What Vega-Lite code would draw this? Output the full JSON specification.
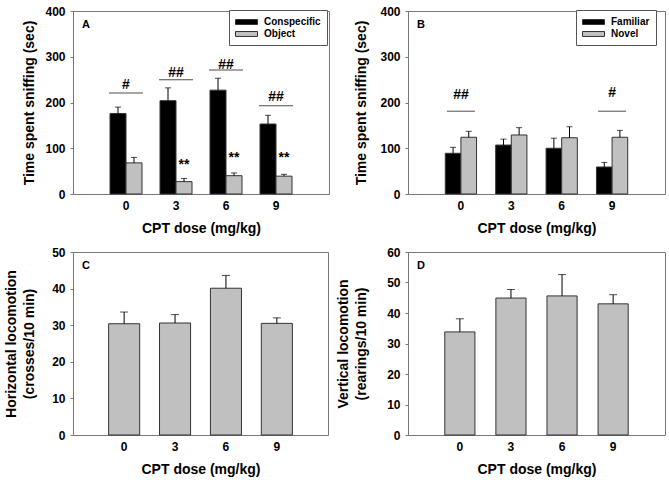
{
  "$schema": "https://vega.github.io/schema/vega-lite/v6.json",
  "padding": {"left": 4, "top": 4, "right": 0, "bottom": 0},
  "background": "white",
  "columns": 2,
  "align": "each",
  "spacing": {"row": 9, "column": 6},
  "resolve": {"scale": {"color": "independent", "x": "independent", "y": "independent", "xOffset": "independent"}, "legend": {"color": "independent"}, "axis": {"x": "independent", "y": "independent"}},
  "config": {
    "font": "Liberation Sans",
    "view": {"stroke": "#777", "strokeWidth": 1},
    "axis": {"domain": false, "grid": false, "labelFont": "Liberation Sans", "labelFontSize": 12, "labelFontWeight": "bold", "labelColor": "#000", "titleFont": "Liberation Sans", "titleFontSize": 14, "titleFontWeight": "bold", "titleColor": "#000", "tickColor": "#777", "tickSize": 3, "titleLineHeight": 18, "labelOverlap": false},
    "axisX": {"ticks": false, "labelAngle": 0, "labelPadding": 6, "titlePadding": 10},
    "axisY": {"labelPadding": 5},
    "title": {"anchor": "start", "frame": "group", "offset": -25, "dx": 9, "fontSize": 11, "fontWeight": "bold", "font": "Liberation Sans", "color": "#000"},
    "legend": {"orient": "none", "title": null, "padding": 6, "strokeColor": "#555", "strokeWidth": 1, "fillColor": "white", "labelFont": "Liberation Sans", "labelFontSize": 10, "labelFontWeight": "bold", "labelColor": "#000", "symbolType": "M-1,-0.45H3V0.45H-1Z", "symbolSize": 121, "symbolStrokeColor": "#333", "symbolStrokeWidth": 1, "labelOffset": 17, "rowPadding": 1}
  },
  "concat": [
    {
      "width": 256, "height": 183,
      "title": {"text": "A"},
      "layer": [
        {
          "data": {"values": [
            {"dose": "0", "group": "Conspecific", "mean": 176, "upper": 190},
            {"dose": "0", "group": "Object", "mean": 68, "upper": 80},
            {"dose": "3", "group": "Conspecific", "mean": 204, "upper": 232},
            {"dose": "3", "group": "Object", "mean": 27, "upper": 34},
            {"dose": "6", "group": "Conspecific", "mean": 227, "upper": 253},
            {"dose": "6", "group": "Object", "mean": 40, "upper": 46},
            {"dose": "9", "group": "Conspecific", "mean": 153, "upper": 172},
            {"dose": "9", "group": "Object", "mean": 39, "upper": 43}
          ]},
          "layer": [
            {"mark": {"type": "bar", "stroke": "#333", "strokeWidth": 1},
             "encoding": {
               "x": {"field": "dose", "type": "nominal", "scale": {"paddingInner": 0.36, "paddingOuter": 0.74}, "axis": {"title": "CPT dose (mg/kg)"}},
               "xOffset": {"field": "group", "type": "nominal", "sort": ["Conspecific", "Object"]},
               "y": {"field": "mean", "type": "quantitative", "scale": {"domain": [0, 400], "nice": false}, "axis": {"values": [0, 100, 200, 300, 400], "titlePadding": 8, "title": ["", "Time spent sniffing (sec)"]}},
               "color": {"field": "group", "type": "nominal", "scale": {"domain": ["Conspecific", "Object"], "range": ["#000000", "#c0c0c0"]}, "legend": {"legendX": 156, "legendY": -1}}
             }},
            {"mark": {"type": "rule", "color": "#000", "strokeWidth": 1},
             "encoding": {"x": {"field": "dose", "type": "nominal"}, "xOffset": {"field": "group", "type": "nominal"}, "y": {"field": "mean", "type": "quantitative", "axis": {"values": [0, 100, 200, 300, 400], "titlePadding": 8, "title": ["", "Time spent sniffing (sec)"]}}, "y2": {"field": "upper"}}},
            {"mark": {"type": "tick", "color": "#000", "thickness": 1, "size": 6, "orient": "horizontal"},
             "encoding": {"x": {"field": "dose", "type": "nominal"}, "xOffset": {"field": "group", "type": "nominal"}, "y": {"field": "upper", "type": "quantitative", "axis": {"values": [0, 100, 200, 300, 400], "titlePadding": 8, "title": ["", "Time spent sniffing (sec)"]}}}}
          ]
        },
        {
          "data": {"values": [
            {"dose": "0", "label": "#", "textY": 239, "lineY": 221},
            {"dose": "3", "label": "##", "textY": 265, "lineY": 250},
            {"dose": "6", "label": "##", "textY": 282, "lineY": 271},
            {"dose": "9", "label": "##", "textY": 213, "lineY": 193}
          ]},
          "layer": [
            {"mark": {"type": "text", "fontSize": 14, "fontWeight": "bold", "font": "Liberation Sans", "baseline": "middle", "color": "#000"},
             "encoding": {"x": {"field": "dose", "type": "nominal"}, "y": {"field": "textY", "type": "quantitative", "axis": {"values": [0, 100, 200, 300, 400], "titlePadding": 8, "title": ["", "Time spent sniffing (sec)"]}}, "text": {"field": "label"}}},
            {"mark": {"type": "tick", "color": "#000", "thickness": 1, "size": 34, "orient": "horizontal"},
             "encoding": {"x": {"field": "dose", "type": "nominal"}, "y": {"field": "lineY", "type": "quantitative", "axis": {"values": [0, 100, 200, 300, 400], "titlePadding": 8, "title": ["", "Time spent sniffing (sec)"]}}}}
          ]
        },
        {
          "data": {"values": [
            {"dose": "3", "group": "Object", "label": "**", "y": 63},
            {"dose": "6", "group": "Object", "label": "**", "y": 79},
            {"dose": "9", "group": "Object", "label": "**", "y": 79}
          ]},
          "mark": {"type": "text", "fontSize": 14, "fontWeight": "bold", "font": "Liberation Sans", "baseline": "middle", "color": "#000"},
          "encoding": {"x": {"field": "dose", "type": "nominal"}, "xOffset": {"field": "group", "type": "nominal"}, "y": {"field": "y", "type": "quantitative", "axis": {"values": [0, 100, 200, 300, 400], "titlePadding": 8, "title": ["", "Time spent sniffing (sec)"]}}, "text": {"field": "label"}}
        }
      ]
    },
    {
      "width": 257, "height": 183,
      "title": {"text": "B"},
      "layer": [
        {
          "data": {"values": [
            {"dose": "0", "group": "Familiar", "mean": 89, "upper": 102},
            {"dose": "0", "group": "Novel", "mean": 124, "upper": 137},
            {"dose": "3", "group": "Familiar", "mean": 107, "upper": 120},
            {"dose": "3", "group": "Novel", "mean": 129, "upper": 145},
            {"dose": "6", "group": "Familiar", "mean": 100, "upper": 122},
            {"dose": "6", "group": "Novel", "mean": 123, "upper": 147},
            {"dose": "9", "group": "Familiar", "mean": 59, "upper": 69},
            {"dose": "9", "group": "Novel", "mean": 124, "upper": 139}
          ]},
          "layer": [
            {"mark": {"type": "bar", "stroke": "#333", "strokeWidth": 1},
             "encoding": {
               "x": {"field": "dose", "type": "nominal", "scale": {"paddingInner": 0.38, "paddingOuter": 0.74}, "axis": {"title": "CPT dose (mg/kg)"}},
               "xOffset": {"field": "group", "type": "nominal", "sort": ["Familiar", "Novel"]},
               "y": {"field": "mean", "type": "quantitative", "scale": {"domain": [0, 400], "nice": false}, "axis": {"values": [0, 100, 200, 300, 400], "titlePadding": 11, "title": ["", "Time spent sniffing (sec)"]}},
               "color": {"field": "group", "type": "nominal", "scale": {"domain": ["Familiar", "Novel"], "range": ["#000000", "#c0c0c0"]}, "legend": {"legendX": 168, "legendY": -1}}
             }},
            {"mark": {"type": "rule", "color": "#000", "strokeWidth": 1},
             "encoding": {"x": {"field": "dose", "type": "nominal"}, "xOffset": {"field": "group", "type": "nominal"}, "y": {"field": "mean", "type": "quantitative", "axis": {"values": [0, 100, 200, 300, 400], "titlePadding": 11, "title": ["", "Time spent sniffing (sec)"]}}, "y2": {"field": "upper"}}},
            {"mark": {"type": "tick", "color": "#000", "thickness": 1, "size": 6, "orient": "horizontal"},
             "encoding": {"x": {"field": "dose", "type": "nominal"}, "xOffset": {"field": "group", "type": "nominal"}, "y": {"field": "upper", "type": "quantitative", "axis": {"values": [0, 100, 200, 300, 400], "titlePadding": 11, "title": ["", "Time spent sniffing (sec)"]}}}}
          ]
        },
        {
          "data": {"values": [
            {"dose": "0", "label": "##", "textY": 217, "lineY": 181},
            {"dose": "9", "label": "#", "textY": 221, "lineY": 181}
          ]},
          "layer": [
            {"mark": {"type": "text", "fontSize": 14, "fontWeight": "bold", "font": "Liberation Sans", "baseline": "middle", "color": "#000"},
             "encoding": {"x": {"field": "dose", "type": "nominal"}, "y": {"field": "textY", "type": "quantitative", "axis": {"values": [0, 100, 200, 300, 400], "titlePadding": 11, "title": ["", "Time spent sniffing (sec)"]}}, "text": {"field": "label"}}},
            {"mark": {"type": "tick", "color": "#000", "thickness": 1, "size": 28, "orient": "horizontal"},
             "encoding": {"x": {"field": "dose", "type": "nominal"}, "y": {"field": "lineY", "type": "quantitative", "axis": {"values": [0, 100, 200, 300, 400], "titlePadding": 11, "title": ["", "Time spent sniffing (sec)"]}}}}
          ]
        }
      ]
    },
    {
      "width": 255, "height": 183,
      "title": {"text": "C"},
      "data": {"values": [
        {"dose": "0", "mean": 30.4, "upper": 33.6},
        {"dose": "3", "mean": 30.6, "upper": 32.9},
        {"dose": "6", "mean": 40.1, "upper": 43.6},
        {"dose": "9", "mean": 30.5, "upper": 32.0}
      ]},
      "layer": [
        {"mark": {"type": "bar", "fill": "#c0c0c0", "stroke": "#333", "strokeWidth": 1},
         "encoding": {
           "x": {"field": "dose", "type": "nominal", "scale": {"paddingInner": 0.39, "paddingOuter": 0.7}, "axis": {"title": "CPT dose (mg/kg)"}},
           "y": {"field": "mean", "type": "quantitative", "scale": {"domain": [0, 50], "nice": false}, "axis": {"values": [0, 10, 20, 30, 40, 50], "tickCount": 6, "titlePadding": 14.7, "title": ["Horizontal locomotion", "(crosses/10 min)"]}}
         }},
        {"mark": {"type": "rule", "color": "#000", "strokeWidth": 1},
         "encoding": {"x": {"field": "dose", "type": "nominal"}, "y": {"field": "mean", "type": "quantitative", "axis": {"values": [0, 10, 20, 30, 40, 50], "tickCount": 6, "titlePadding": 14.7, "title": ["Horizontal locomotion", "(crosses/10 min)"]}}, "y2": {"field": "upper"}}},
        {"mark": {"type": "tick", "color": "#000", "thickness": 1, "size": 8, "orient": "horizontal"},
         "encoding": {"x": {"field": "dose", "type": "nominal"}, "y": {"field": "upper", "type": "quantitative", "axis": {"values": [0, 10, 20, 30, 40, 50], "tickCount": 6, "titlePadding": 14.7, "title": ["Horizontal locomotion", "(crosses/10 min)"]}}}}
      ]
    },
    {
      "width": 257, "height": 183,
      "title": {"text": "D"},
      "data": {"values": [
        {"dose": "0", "mean": 33.8, "upper": 38.1},
        {"dose": "3", "mean": 44.9, "upper": 47.7},
        {"dose": "6", "mean": 45.6, "upper": 52.6},
        {"dose": "9", "mean": 43.0, "upper": 46.0}
      ]},
      "layer": [
        {"mark": {"type": "bar", "fill": "#c0c0c0", "stroke": "#333", "strokeWidth": 1},
         "encoding": {
           "x": {"field": "dose", "type": "nominal", "scale": {"paddingInner": 0.41, "paddingOuter": 0.72}, "axis": {"title": "CPT dose (mg/kg)"}},
           "y": {"field": "mean", "type": "quantitative", "scale": {"domain": [0, 60], "nice": false}, "axis": {"values": [0, 10, 20, 30, 40, 50, 60], "tickCount": 7, "titlePadding": 17.7, "title": ["Vertical locomotion", "(rearings/10 min)"]}}
         }},
        {"mark": {"type": "rule", "color": "#000", "strokeWidth": 1},
         "encoding": {"x": {"field": "dose", "type": "nominal"}, "y": {"field": "mean", "type": "quantitative", "axis": {"values": [0, 10, 20, 30, 40, 50, 60], "tickCount": 7, "titlePadding": 17.7, "title": ["Vertical locomotion", "(rearings/10 min)"]}}, "y2": {"field": "upper"}}},
        {"mark": {"type": "tick", "color": "#000", "thickness": 1, "size": 8, "orient": "horizontal"},
         "encoding": {"x": {"field": "dose", "type": "nominal"}, "y": {"field": "upper", "type": "quantitative", "axis": {"values": [0, 10, 20, 30, 40, 50, 60], "tickCount": 7, "titlePadding": 17.7, "title": ["Vertical locomotion", "(rearings/10 min)"]}}}}
      ]
    }
  ]
}
